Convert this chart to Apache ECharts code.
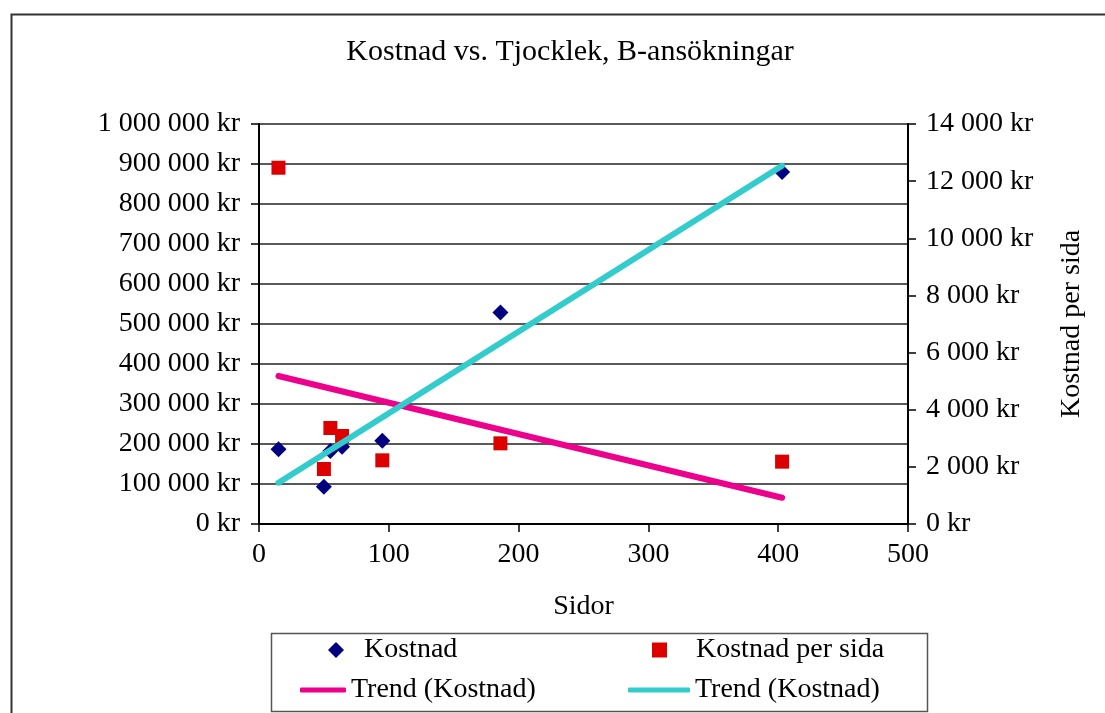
<!DOCTYPE html>
<html>
<head>
<meta charset="utf-8">
<script src="https://cdn.jsdelivr.net/npm/echarts@6/dist/echarts.min.js"></script>
<style>
  html, body { margin: 0; padding: 0; background: #fff; }
  #chart { width: 1105px; height: 713px; }
</style>
</head>
<body>
<div id="chart"></div>
<script>
var chart = echarts.init(document.getElementById('chart'));

// data
var sidor = [15, 50, 55, 64, 95, 186, 403];
var kostnad = [187000, 93000, 182500, 193000, 208000, 529000, 880000];
var kostnadPerSida = [12470, 1925, 3360, 3080, 2228, 2823, 2182];

// trend line end points
var trendX = [15, 403];
var trendKostnad = [103300, 895800];
var trendPerSida = [5180, 920];

var xTicks = { min: 0, max: 500, interval: 100 };
var leftTicks = { min: 0, max: 1000000, interval: 100000 };
var rightTicks = { min: 0, max: 14000, interval: 2000 };

var FONT = '"Liberation Serif", "DejaVu Serif", serif';
var SIZE = 28;

function kr(v) {
    return String(v).replace(/\B(?=(\d{3})+(?!\d))/g, ' ') + ' kr';
}
function pairs(xs, ys) {
    return xs.map(function (x, i) { return [x, ys[i]]; });
}

var axisLine = { lineStyle: { color: '#000', width: 2 } };
var axisTick = { show: true, length: 8, lineStyle: { color: '#000', width: 1.5 } };
var label = { color: '#000', fontFamily: FONT, fontSize: SIZE };

function legendItem(name, left, top, w, h, icon, pad) {
    return {
        data: [{ name: name, icon: icon }],
        left: left,
        top: top,
        padding: 0,
        itemWidth: w,
        itemHeight: h,
        selectedMode: false,
        formatter: function (n) { return n.trim(); },
        textStyle: { color: '#000', fontFamily: FONT, fontSize: SIZE, padding: [0, 0, 0, pad] }
    };
}

option = {
    animation: false,
    backgroundColor: '#fff',
    title: {
        text: 'Kostnad vs. Tjocklek, B-ansökningar',
        left: 565,
        top: 32,
        textAlign: 'center',
        textStyle: { color: '#000', fontFamily: FONT, fontSize: 30, fontWeight: 'normal' }
    },
    graphic: [
        {
            type: 'rect', left: 9, top: 12, silent: true,
            shape: { width: 1200, height: 800 },
            style: { fill: 'none', stroke: '#333', lineWidth: 2 }
        },
        {
            type: 'rect', left: 269, top: 631, silent: true,
            shape: { width: 656, height: 78 },
            style: { fill: 'none', stroke: '#555', lineWidth: 1.5 }
        }
    ],
    legend: [
        legendItem('Kostnad', 328, 636, 16, 16, 'diamond', 15),
        legendItem('Kostnad per sida', 652, 636, 15, 15, 'rect', 24),
        legendItem('Trend (Kostnad)', 300, 676, 46, 5, 'roundRect', 0),
        legendItem('Trend (Kostnad) ', 628, 676, 62, 5, 'roundRect', 0)
    ],
    grid: {
        left: 259,
        right: 197,
        top: 124,
        bottom: 189,
        containLabel: false
    },
    xAxis: {
        type: 'value',
        min: xTicks.min,
        max: xTicks.max,
        interval: xTicks.interval,
        name: 'Sidor',
        nameLocation: 'middle',
        nameGap: 69,
        nameTextStyle: label,
        axisLine: axisLine,
        axisTick: axisTick,
        axisLabel: Object.assign({ margin: 17 }, label),
        splitLine: { show: false }
    },
    yAxis: [
        {
            type: 'value',
            position: 'left',
            min: leftTicks.min,
            max: leftTicks.max,
            interval: leftTicks.interval,
            axisLine: Object.assign({ show: true }, axisLine),
            axisTick: axisTick,
            axisLabel: Object.assign({ margin: 19, formatter: kr }, label),
            splitLine: { show: true, lineStyle: { color: '#222', width: 1.5 } }
        },
        {
            type: 'value',
            position: 'right',
            min: rightTicks.min,
            max: rightTicks.max,
            interval: rightTicks.interval,
            name: 'Kostnad per sida',
            nameLocation: 'middle',
            nameRotate: 90,
            nameGap: 150,
            nameTextStyle: label,
            axisLine: Object.assign({ show: true }, axisLine),
            axisTick: axisTick,
            axisLabel: Object.assign({ margin: 18, formatter: kr }, label),
            splitLine: { show: false }
        }
    ],
    series: [
        {
            name: 'Kostnad',
            type: 'scatter',
            yAxisIndex: 0,
            symbol: 'diamond',
            symbolSize: 16,
            itemStyle: { color: '#000080', opacity: 1 },
            data: pairs(sidor, kostnad)
        },
        {
            name: 'Kostnad per sida',
            type: 'scatter',
            yAxisIndex: 1,
            symbol: 'rect',
            symbolSize: 14,
            itemStyle: { color: '#dd0000', opacity: 1 },
            data: pairs(sidor, kostnadPerSida)
        },
        {
            name: 'Trend (Kostnad)',
            type: 'line',
            yAxisIndex: 1,
            symbol: 'none',
            itemStyle: { color: '#ec008c' },
            lineStyle: { color: '#ec008c', width: 6, cap: 'round' },
            data: pairs(trendX, trendPerSida)
        },
        {
            name: 'Trend (Kostnad) ',
            type: 'line',
            yAxisIndex: 0,
            symbol: 'none',
            itemStyle: { color: '#33cccc' },
            lineStyle: { color: '#33cccc', width: 6, cap: 'round' },
            data: pairs(trendX, trendKostnad)
        }
    ]
};

chart.setOption(option);
</script>
</body>
</html>
